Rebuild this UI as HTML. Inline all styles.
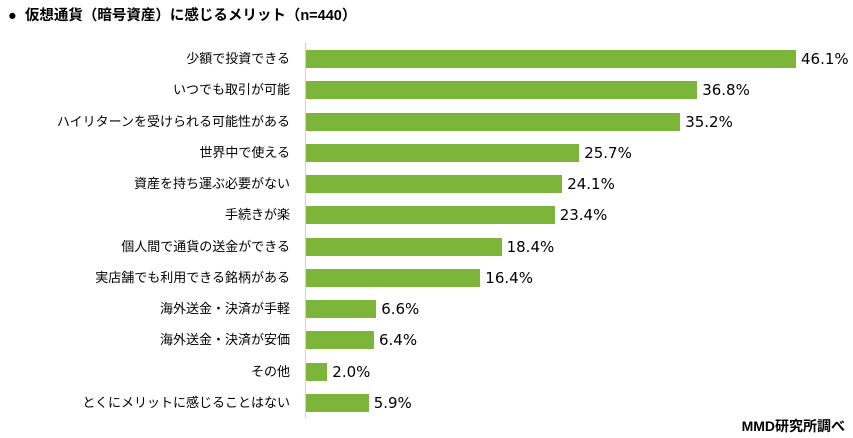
<!DOCTYPE html>
<html><head><meta charset="utf-8"><style>
body{margin:0;width:853px;height:438px;background:#fff;position:relative;overflow:hidden;font-family:"Liberation Sans","Noto Sans CJK JP",sans-serif;color:#000}
.t{position:absolute;left:8px;top:4px;font-size:14.5px;font-weight:bold;white-space:nowrap}
.ax{position:absolute;left:305px;top:42px;width:1px;height:376px;background:#d0d0d0}
.r{position:absolute;left:0;width:853px;height:18px}
.l{position:absolute;right:563px;top:-2px;font-size:13px;white-space:nowrap;line-height:22px}
.b{position:absolute;left:306px;top:0;height:18px;background:#7cb53a}
.v{position:absolute;top:-2px;font-size:15px;line-height:22px;white-space:nowrap;font-family:"DejaVu Sans",sans-serif}
.src{position:absolute;right:8px;top:416px;font-size:14px;font-weight:bold}
</style></head><body>
<div class="t">●&nbsp; 仮想通貨（暗号資産）に感じるメリット（n=440）</div>
<div class="ax"></div>
<div id="c"></div>
<div class="src">MMD研究所調べ</div>
<script>
var d=[["少額で投資できる",46.1],["いつでも取引が可能",36.8],["ハイリターンを受けられる可能性がある",35.2],["世界中で使える",25.7],["資産を持ち運ぶ必要がない",24.1],["手続きが楽",23.4],["個人間で通貨の送金ができる",18.4],["実店舗でも利用できる銘柄がある",16.4],["海外送金・決済が手軽",6.6],["海外送金・決済が安価",6.4],["その他",2.0],["とくにメリットに感じることはない",5.9]];
var h="";d.forEach(function(e,i){var y=50+i*31.27;var w=e[1]*10.63;
h+='<div class="r" style="top:'+y.toFixed(1)+'px"><div class="l">'+e[0]+'</div><div class="b" style="width:'+w.toFixed(1)+'px"></div><div class="v" style="left:'+(306+w+5).toFixed(1)+'px">'+e[1].toFixed(1)+'%</div></div>';});
document.getElementById("c").innerHTML=h;
</script>
</body></html>
